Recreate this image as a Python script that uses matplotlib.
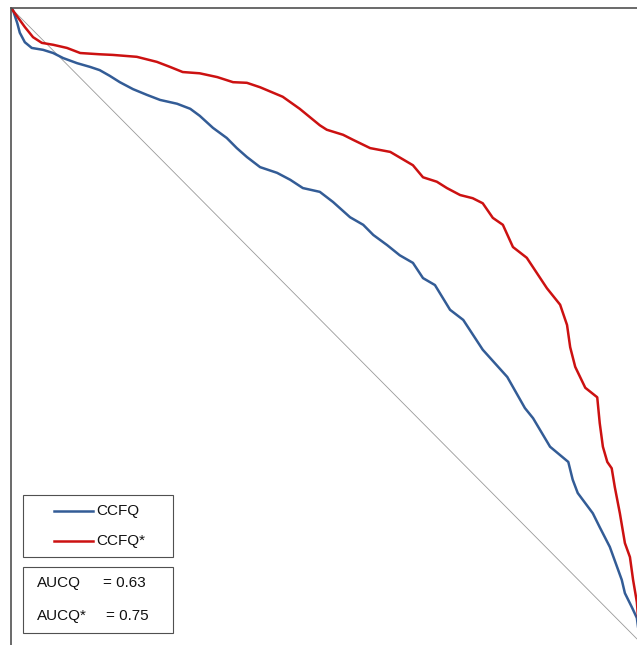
import matplotlib
matplotlib.use("Agg")
import matplotlib.pyplot as plt
from matplotlib.patches import Rectangle
from matplotlib.lines import Line2D

# curve values (x = cumulative share, y = cumulative share)
ccfq_x = [0.0, 0.003, 0.010, 0.014, 0.022, 0.033, 0.051, 0.067, 0.083, 0.105,
          0.126, 0.141, 0.157, 0.173, 0.194, 0.216, 0.237, 0.264, 0.285, 0.300,
          0.321, 0.343, 0.359, 0.375, 0.396, 0.423, 0.444, 0.464, 0.491, 0.512,
          0.539, 0.560, 0.576, 0.598, 0.618, 0.639, 0.655, 0.674, 0.698, 0.719,
          0.750, 0.789, 0.817, 0.830, 0.857, 0.886, 0.893, 0.901, 0.925, 0.936,
          0.952, 0.971, 0.976, 0.987, 0.995, 1.0]
ccfq_y = [1.0, 0.997, 0.976, 0.961, 0.946, 0.937, 0.934, 0.929, 0.921, 0.913,
          0.907, 0.902, 0.893, 0.883, 0.872, 0.863, 0.855, 0.849, 0.841, 0.830,
          0.811, 0.795, 0.779, 0.765, 0.749, 0.740, 0.729, 0.716, 0.710, 0.694,
          0.670, 0.658, 0.642, 0.626, 0.610, 0.598, 0.574, 0.563, 0.524, 0.508,
          0.461, 0.418, 0.369, 0.353, 0.308, 0.284, 0.256, 0.235, 0.203, 0.181,
          0.150, 0.098, 0.077, 0.055, 0.038, 0.0]

ccfq_star_x = [0.0, 0.006, 0.014, 0.022, 0.035, 0.049, 0.067, 0.089, 0.110, 0.141,
               0.162, 0.200, 0.232, 0.253, 0.273, 0.300, 0.328, 0.353, 0.375, 0.396,
               0.432, 0.459, 0.491, 0.502, 0.528, 0.544, 0.571, 0.603, 0.639, 0.655,
               0.677, 0.693, 0.714, 0.734, 0.750, 0.766, 0.782, 0.798, 0.820, 0.852,
               0.873, 0.884, 0.889, 0.897, 0.913, 0.932, 0.936, 0.941, 0.948, 0.955,
               0.960, 0.968, 0.976, 0.984, 0.989, 0.995, 1.0]
ccfq_star_y = [1.0, 0.992, 0.981, 0.970, 0.954, 0.945, 0.942, 0.937, 0.929, 0.927,
               0.926, 0.923, 0.915, 0.907, 0.899, 0.897, 0.891, 0.883, 0.882, 0.875,
               0.860, 0.841, 0.815, 0.808, 0.800, 0.792, 0.779, 0.773, 0.752, 0.733,
               0.726, 0.716, 0.705, 0.700, 0.692, 0.669, 0.658, 0.623, 0.606, 0.558,
               0.532, 0.500, 0.465, 0.434, 0.401, 0.386, 0.345, 0.308, 0.284, 0.274,
               0.244, 0.203, 0.156, 0.134, 0.098, 0.063, 0.0]

diag_x = [0.0, 1.0]
diag_y = [1.0, 0.0]

labels = ["CCFQ", "CCFQ*"]
auc_names = ["AUCQ", "AUCQ*"]
auc_values = [0.63, 0.75]

blue = "#335C96"
red = "#CC1111"

plt.rcParams['font.family'] = ['Liberation Sans', 'DejaVu Sans']

W, H = 637, 645
fig = plt.figure(figsize=(W / 100, H / 100), dpi=100)

def fx(px):
    return px / W

def fy(py):
    return 1 - py / H

# axes spans px 11..640 horizontally, 8..645 vertically (cropped at right/bottom)
ax = fig.add_axes([fx(11), 0, fx(640) - fx(11), fy(8)])
ax.set_xlim(0, 1)
ax.set_ylim(-3 / 634, 1)

ax.plot(diag_x, diag_y, color="#999999", lw=0.6)
ax.plot(ccfq_x, ccfq_y, color=blue, lw=1.8, label=labels[0])
ax.plot(ccfq_star_x, ccfq_star_y, color=red, lw=1.8, label=labels[1])

ax.set_xticks([])
ax.set_yticks([])
for s in ["right", "bottom"]:
    ax.spines[s].set_visible(False)
for s in ["left", "top"]:
    ax.spines[s].set_color("#505050")
    ax.spines[s].set_linewidth(1.2)

# legend box
tf = fig.transFigure
fig.patches.append(Rectangle((fx(23), fy(557)), fx(173) - fx(23), fy(495) - fy(557),
                             transform=tf, fill=False, edgecolor="#505050", lw=0.8))
for i, (lab, col) in enumerate(zip(labels, [blue, red])):
    yy = 511 + i * 30
    fig.lines.append(Line2D([fx(54), fx(93)], [fy(yy), fy(yy)], transform=tf,
                            color=col, lw=1.8))
    fig.text(fx(96), fy(yy), lab, fontsize=11, va="center", ha="left", color="#111111")

# AUC box
fig.patches.append(Rectangle((fx(23), fy(633)), fx(173) - fx(23), fy(567) - fy(633),
                             transform=tf, fill=False, edgecolor="#505050", lw=0.8))
for i, (nm, v) in enumerate(zip(auc_names, auc_values)):
    yy = 583 + i * 33
    fig.text(fx(37), fy(yy), nm, fontsize=11, va="center", ha="left", color="#111111")
    fig.text(fx(103 + 3 * i), fy(yy), "= %.2f" % v, fontsize=11, va="center",
             ha="left", color="#111111")

fig.savefig("out.png", dpi=100)
